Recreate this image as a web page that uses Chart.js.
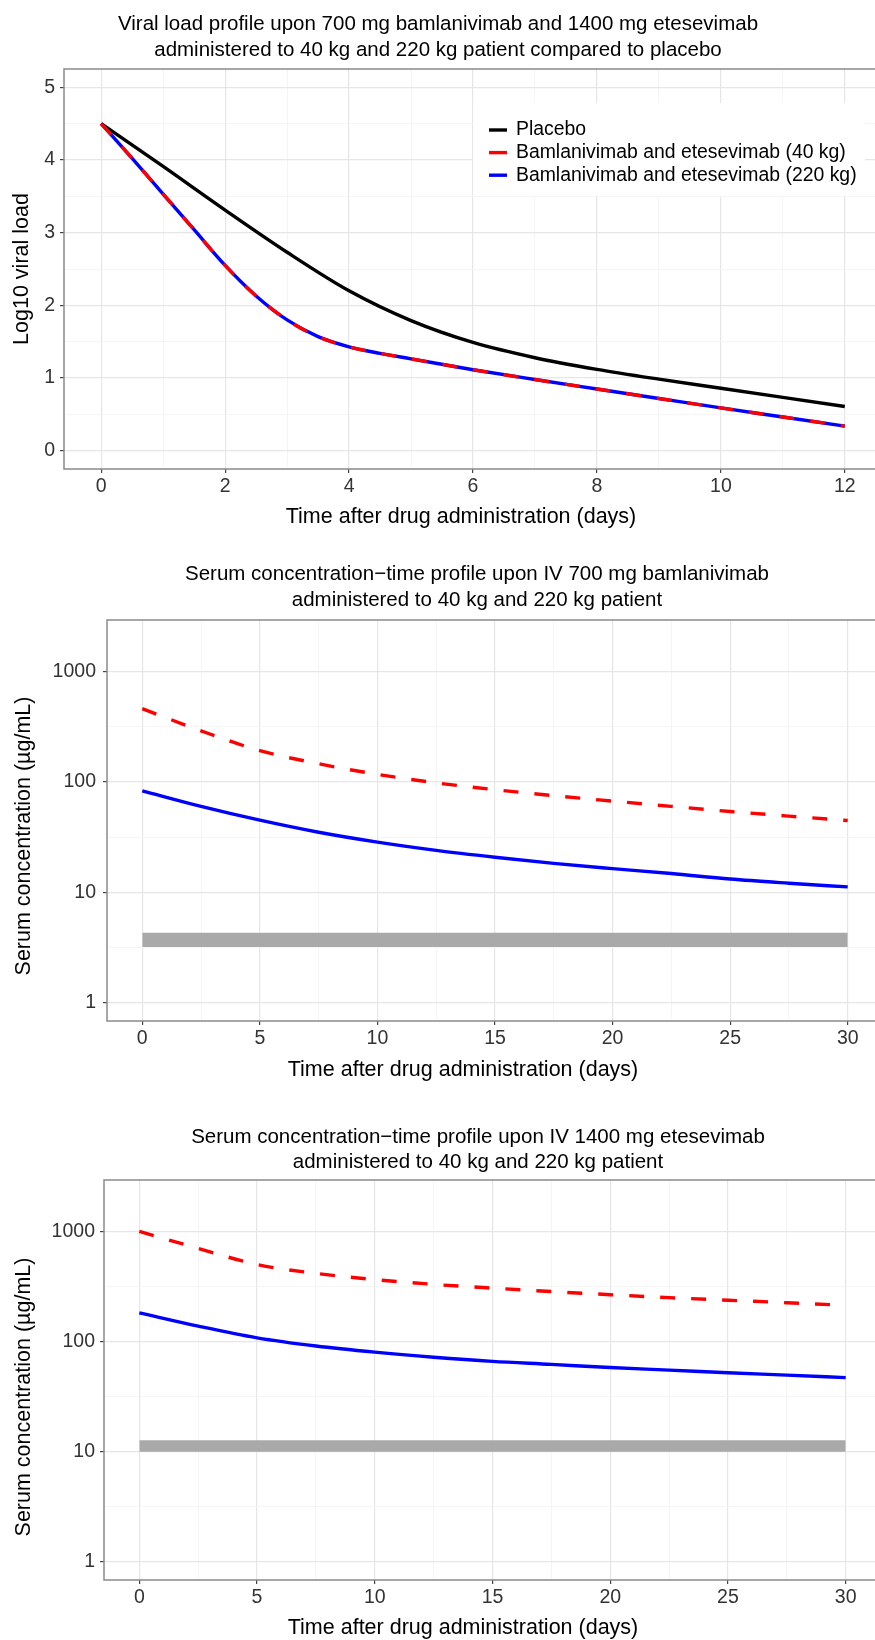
<!DOCTYPE html>
<html>
<head>
<meta charset="utf-8">
<title>Viral load and serum concentration profiles</title>
<script src="https://cdn.jsdelivr.net/npm/chart.js@4.4.1/dist/chart.umd.min.js"></script>
<style>
  html, body { margin: 0; padding: 0; background: #fff; overflow: hidden; }
  #page { position: relative; width: 875px; height: 1640px; overflow: hidden; background: #fff; }
  #page canvas { position: absolute; left: 0; }
</style>
</head>
<body>
<div id="page">
  <canvas id="viralChart" width="900" height="550" style="top:0px"></canvas>
  <canvas id="bamChart" width="900" height="561" style="top:550px"></canvas>
  <canvas id="eteChart" width="900" height="529" style="top:1111px"></canvas>
</div>
<script>
// ---- data ----
// panel 1: log10 viral load
var vlPlaceboDays = [0, 1, 2, 3, 4, 5, 6, 7, 8, 9, 10, 11, 12];
var vlPlacebo = [4.5, 3.91, 3.31, 2.73, 2.2, 1.79, 1.49, 1.28, 1.12, 0.985, 0.86, 0.735, 0.61];
var vlDays = [0, 0.5, 1, 1.5, 2, 2.5, 3, 3.5, 4, 4.5, 5, 6, 7, 8, 9, 10, 11, 12];
var vlBamEte40 = [4.5, 4.02, 3.53, 3.04, 2.55, 2.13, 1.8, 1.57, 1.43, 1.34, 1.265, 1.115, 0.98, 0.85, 0.72, 0.59, 0.465, 0.34];
var vlBamEte220 = [4.5, 4.02, 3.53, 3.04, 2.55, 2.13, 1.8, 1.57, 1.43, 1.34, 1.265, 1.115, 0.98, 0.85, 0.72, 0.59, 0.465, 0.34];
var vlXTicks = [0, 1, 2, 3, 4, 5, 6, 7, 8, 9, 10, 11, 12];
var vlXLabels = [0, 2, 4, 6, 8, 10, 12];
var vlYTicks = [0, 0.5, 1, 1.5, 2, 2.5, 3, 3.5, 4, 4.5, 5];
var vlYLabels = [0, 1, 2, 3, 4, 5];

// panel 2: bamlanivimab serum concentration (ug/mL)
var bamDays = [0, 2.5, 5, 7.5, 10, 12.5, 15, 17.5, 20, 22.5, 25, 27.5, 30];
var bam40kg = [460, 290, 192, 146, 117, 98, 85, 75, 67, 60, 54, 49, 44.7];
var bam220kg = [83, 60, 45, 35, 28.5, 24, 20.8, 18.3, 16.4, 14.8, 13.2, 12.1, 11.2];
var bamBandDays = [0, 30];
var bamBandLow = [3.2, 3.2];
var bamBandHigh = [4.3, 4.3];

// panel 3: etesevimab serum concentration (ug/mL)
var eteDays = [0, 2.5, 5, 7.5, 10, 12.5, 15, 17.5, 20, 22.5, 25, 27.5, 30];
var ete40kg = [1000, 700, 500, 415, 365, 330, 305, 284, 266, 250, 237, 225, 213];
var ete220kg = [182, 138, 108, 91, 80, 72, 66, 62, 58, 55, 52, 49.5, 47];
var eteBandDays = [0, 30];
var eteBandLow = [10, 10];
var eteBandHigh = [12.7, 12.7];

var concXTicks = [0, 2.5, 5, 7.5, 10, 12.5, 15, 17.5, 20, 22.5, 25, 27.5, 30];
var concXLabels = [0, 5, 10, 15, 20, 25, 30];
var concYTicks = [1, 3.1623, 10, 31.623, 100, 316.23, 1000];
var concYLabels = [1, 10, 100, 1000];

var legendNames = ['Placebo', 'Bamlanivimab and etesevimab (40 kg)', 'Bamlanivimab and etesevimab (220 kg)'];

// ---- styling ----
var FONT = '"Liberation Sans", Arial, Helvetica, sans-serif';
var TICK_COLOR = '#333333';
Chart.defaults.font.family = FONT;

function pts(xs, ys) {
    return xs.map(function (x, i) { return {x: x, y: ys[i]}; });
}

function lineSet(label, xs, ys, color, dash) {
    return {
        label: label,
        data: pts(xs, ys),
        borderColor: color,
        backgroundColor: color,
        borderWidth: 3.4,
        borderDash: dash || [],
        borderCapStyle: 'butt',
        pointRadius: 0,
        fill: false,
        cubicInterpolationMode: 'monotone'
    };
}

function bandSets(xs, low, high) {
    return [
        {label: 'band low', data: pts(xs, low), borderWidth: 0, borderColor: 'rgba(0,0,0,0)', pointRadius: 0, fill: false},
        {label: 'band high', data: pts(xs, high), borderWidth: 0, borderColor: 'rgba(0,0,0,0)', pointRadius: 0,
         fill: '-1', backgroundColor: '#a9a9a9'}
    ];
}

function gridStyle(majors) {
    var isMajor = function (c) { return c.tick && majors.indexOf(c.tick.value) >= 0; };
    return {
        color: function (c) { return isMajor(c) ? '#e6e6e6' : '#f2f2f2'; },
        lineWidth: function (c) { return isMajor(c) ? 1.2 : 0.8; },
        tickColor: function (c) { return isMajor(c) ? '#444' : 'rgba(0,0,0,0)'; },
        tickLength: 4,
        tickWidth: 1.2
    };
}

function axis(opts) {
    return {
        type: opts.type || 'linear',
        position: opts.position,
        min: opts.min,
        max: opts.max,
        afterBuildTicks: function (s) { s.ticks = opts.ticks.map(function (v) { return {value: v}; }); },
        afterFit: function (s) {
            if (opts.position === 'left') { s.width = opts.size; } else { s.height = opts.size; }
        },
        grid: gridStyle(opts.labels),
        border: {display: false},
        ticks: {
            autoSkip: false, maxRotation: 0, minRotation: 0,
            padding: opts.pad, color: TICK_COLOR, font: {size: 19.5},
            callback: function (v) { return opts.labels.indexOf(v) >= 0 ? String(v) : ''; }
        }
    };
}

// titles and axis titles placed where the figure has them
function textPlugin(items) {
    return {
        id: 'freeText',
        afterDraw: function (chart) {
            var ctx = chart.ctx;
            items.forEach(function (t) {
                ctx.save();
                ctx.font = t.size + 'px ' + FONT;
                ctx.fillStyle = '#000';
                ctx.textAlign = 'center';
                ctx.textBaseline = 'middle';
                ctx.translate(t.x, t.y);
                if (t.rotate) { ctx.rotate(t.rotate); }
                ctx.fillText(t.text, 0, 0);
                ctx.restore();
            });
        }
    };
}

var panelFrame = {
    id: 'panelFrame',
    afterDatasetsDraw: function (chart) {
        var a = chart.chartArea, ctx = chart.ctx;
        ctx.save();
        ctx.strokeStyle = '#8a8a8a';
        ctx.lineWidth = 1.5;
        ctx.strokeRect(a.left, a.top, a.right - a.left, a.bottom - a.top);
        ctx.restore();
    }
};

// legend box sitting inside the first panel
function insideLegend(box) {
    return {
        id: 'insideLegend',
        afterDraw: function (chart) {
            var ctx = chart.ctx;
            ctx.save();
            ctx.fillStyle = '#fff';
            ctx.fillRect(box.x, box.y, box.w, box.h);
            ctx.font = '19.4px ' + FONT;
            ctx.textBaseline = 'middle';
            ctx.textAlign = 'left';
            var order = [2, 0, 1];
            order.forEach(function (di, row) {
                var ds = chart.data.datasets[di];
                var y = box.y + 27 + row * 22.6;
                ctx.strokeStyle = ds.borderColor;
                ctx.lineWidth = 3.4;
                ctx.beginPath();
                ctx.moveTo(box.x + 16, y);
                ctx.lineTo(box.x + 34, y);
                ctx.stroke();
                ctx.fillStyle = '#000';
                ctx.fillText(ds.label, box.x + 43, y);
            });
            ctx.restore();
        }
    };
}

var baseOptions = function (pad) {
    return {
        responsive: false,
        animation: false,
        devicePixelRatio: 1,
        layout: {padding: pad},
        plugins: {legend: {display: false}, tooltip: {enabled: false}, title: {display: false}}
    };
};

// ---- panel 1 ----
var opt1 = baseOptions({top: 69, right: 18, left: 0, bottom: 0});
opt1.scales = {
    x: axis({position: 'bottom', min: -0.6, max: 12.6, ticks: vlXTicks, labels: vlXLabels, size: 81, pad: 2}),
    y: axis({position: 'left', min: -0.25, max: 5.25, ticks: vlYTicks, labels: vlYLabels, size: 64, pad: 5})
};
new Chart(document.getElementById('viralChart').getContext('2d'), {
    type: 'line',
    data: {
        datasets: [
            lineSet(legendNames[1], vlDays, vlBamEte40, '#ff0000', [15, 16]),
            lineSet(legendNames[2], vlDays, vlBamEte220, '#0000ff'),
            lineSet(legendNames[0], vlPlaceboDays, vlPlacebo, '#000000')
        ]
    },
    options: opt1,
    plugins: [panelFrame, insideLegend({x: 473, y: 103, w: 392, h: 93}), textPlugin([
        {text: 'Viral load profile upon 700 mg bamlanivimab and 1400 mg etesevimab', x: 438, y: 24, size: 20.5},
        {text: 'administered to 40 kg and 220 kg patient compared to placebo', x: 438, y: 50, size: 20.5},
        {text: 'Time after drug administration (days)', x: 461, y: 517, size: 21.5},
        {text: 'Log10 viral load', x: 22, y: 269, size: 21.5, rotate: -Math.PI / 2}
    ])]
});

// ---- panel 2 ----
var opt2 = baseOptions({top: 70, right: 17, left: 0, bottom: 0});
opt2.scales = {
    x: axis({position: 'bottom', min: -1.5, max: 31.5, ticks: concXTicks, labels: concXLabels, size: 90, pad: 2}),
    y: axis({type: 'logarithmic', position: 'left', min: 0.684, max: 2924, ticks: concYTicks, labels: concYLabels, size: 107, pad: 7})
};
new Chart(document.getElementById('bamChart').getContext('2d'), {
    type: 'line',
    data: {
        datasets: [
            lineSet('40 kg', bamDays, bam40kg, '#ff0000', [15, 16]),
            lineSet('220 kg', bamDays, bam220kg, '#0000ff')
        ].concat(bandSets(bamBandDays, bamBandLow, bamBandHigh))
    },
    options: opt2,
    plugins: [panelFrame, textPlugin([
        {text: 'Serum concentration\u2212time profile upon IV 700 mg bamlanivimab', x: 477, y: 24, size: 20.5},
        {text: 'administered to 40 kg and 220 kg patient', x: 477, y: 50, size: 20.5},
        {text: 'Time after drug administration (days)', x: 463, y: 520, size: 21.5},
        {text: 'Serum concentration (\u00b5g/mL)', x: 24, y: 286, size: 21.5, rotate: -Math.PI / 2}
    ])]
});

// ---- panel 3 ----
var opt3 = baseOptions({top: 69, right: 19, left: 0, bottom: 0});
opt3.scales = {
    x: axis({position: 'bottom', min: -1.5, max: 31.5, ticks: concXTicks, labels: concXLabels, size: 60, pad: 2}),
    y: axis({type: 'logarithmic', position: 'left', min: 0.684, max: 2924, ticks: concYTicks, labels: concYLabels, size: 104, pad: 5})
};
new Chart(document.getElementById('eteChart').getContext('2d'), {
    type: 'line',
    data: {
        datasets: [
            lineSet('40 kg', eteDays, ete40kg, '#ff0000', [15, 16]),
            lineSet('220 kg', eteDays, ete220kg, '#0000ff')
        ].concat(bandSets(eteBandDays, eteBandLow, eteBandHigh))
    },
    options: opt3,
    plugins: [panelFrame, textPlugin([
        {text: 'Serum concentration\u2212time profile upon IV 1400 mg etesevimab', x: 478, y: 26, size: 20.5},
        {text: 'administered to 40 kg and 220 kg patient', x: 478, y: 51, size: 20.5},
        {text: 'Time after drug administration (days)', x: 463, y: 517, size: 21.5},
        {text: 'Serum concentration (\u00b5g/mL)', x: 24, y: 286, size: 21.5, rotate: -Math.PI / 2}
    ])]
});
</script>
</body>
</html>
